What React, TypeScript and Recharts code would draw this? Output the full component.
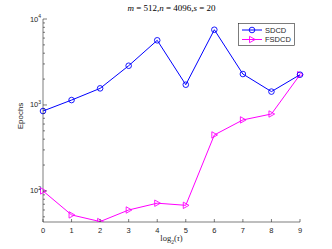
import React from 'react';
import { LineChart, Line, XAxis, YAxis } from 'recharts';

const tau = [0, 1, 2, 3, 4, 5, 6, 7, 8, 9];
const sdcd = [850, 1140, 1560, 2860, 5650, 1720, 7500, 2290, 1430, 2250];
const fsdcd = [100, 52.6, 44, 60, 72, 68, 448, 670, 785, 2250];

const xTicks = [0, 1, 2, 3, 4, 5, 6, 7, 8, 9];
const majorTicks = [100, 1000, 10000];
const yTicks = [50, 60, 70, 80, 90, 100, 200, 300, 400, 500, 600, 700, 800, 900,
  1000, 2000, 3000, 4000, 5000, 6000, 7000, 8000, 9000, 10000];
const yDomain: [number, number] = [43.5, 10000];

const data = tau.map((t, i) => ({ x: t, sdcd: sdcd[i], fsdcd: fsdcd[i] }));

const AX = '#262626';
const BLUE = '#0000FF';
const MAGENTA = '#FF00FF';
const SANS = 'Liberation Sans, Arial, sans-serif';
const SERIF = 'Liberation Serif, Times New Roman, serif';

const LeftTick = (props: any) => {
  const { x, y, payload } = props;
  const v = payload.value;
  const major = majorTicks.includes(v);
  const len = major ? 4 : 2;
  return (
    <g>
      <line x1={x} x2={x + len} y1={y} y2={y} stroke={AX} strokeWidth={0.6} />
      {major && (
        <text x={x - 2} y={y + 2.5} textAnchor="end" fontSize={7.5} fill={AX} fontFamily={SANS}>
          10<tspan dy={-3.5} fontSize={5}>{Math.round(Math.log10(v))}</tspan>
        </text>
      )}
    </g>
  );
};

const RightTick = (props: any) => {
  const { x, y, payload } = props;
  const len = majorTicks.includes(payload.value) ? 4 : 2;
  return <line x1={x} x2={x - len} y1={y} y2={y} stroke={AX} strokeWidth={0.6} />;
};

const BottomTick = (props: any) => {
  const { x, y, payload } = props;
  return (
    <g>
      <line x1={x} x2={x} y1={y} y2={y - 3} stroke={AX} strokeWidth={0.6} />
      <text x={x} y={y + 10.5} textAnchor="middle" fontSize={7.5} fill={AX} fontFamily={SANS}>
        {payload.value}
      </text>
    </g>
  );
};

const TopTick = (props: any) => {
  const { x, y } = props;
  return <line x1={x} x2={x} y1={y} y2={y + 3} stroke={AX} strokeWidth={0.6} />;
};

const Tri = ({ cx, cy, color }: any) => (
  <path d={`M${cx - 2.5},${cy - 3.2} L${cx + 3.2},${cy} L${cx - 2.5},${cy + 3.2} Z`}
    fill="none" stroke={color} strokeWidth={0.9} />
);

const TriDot = (props: any) => {
  const { cx, cy, index } = props;
  if (cx == null || cy == null) return <g key={index} />;
  return <Tri key={index} cx={cx} cy={cy} color={MAGENTA} />;
};

const LegendBox = () => (
  <svg width={57} height={23} style={{ display: 'block' }}>
    <rect x={0.5} y={0.5} width={56} height={22} fill="#fff" stroke={AX} strokeWidth={0.6} />
    <line x1={4} x2={24} y1={7} y2={7} stroke={BLUE} strokeWidth={1} />
    <circle cx={14} cy={7} r={2.8} fill="none" stroke={BLUE} strokeWidth={0.9} />
    <text x={27} y={9.6} fontSize={7.5} fill={AX} fontFamily={SANS}>SDCD</text>
    <line x1={4} x2={24} y1={16.5} y2={16.5} stroke={MAGENTA} strokeWidth={1} />
    <Tri cx={14} cy={16.5} color={MAGENTA} />
    <text x={27} y={19.1} fontSize={7.5} fill={AX} fontFamily={SANS}>FSDCD</text>
  </svg>
);

export default function App() {
  return (
    <div style={{ position: 'relative', width: 332, height: 249, background: '#fff' }}>
      <style>{'body{margin:0}'}</style>
      <LineChart width={332} height={249} data={data}
        margin={{ top: 19, right: 32, bottom: 0, left: 0 }}
        style={{ position: 'absolute', top: 0, left: 0 }}>
        <XAxis xAxisId="b" dataKey="x" type="number" domain={[0, 9]} ticks={xTicks}
          height={27} tickSize={0} tickMargin={0} tickLine={false}
          axisLine={{ stroke: AX, strokeWidth: 0.6 }} tick={<BottomTick />} interval={0} />
        <XAxis xAxisId="t" orientation="top" dataKey="x" type="number" domain={[0, 9]} ticks={xTicks}
          height={0} tickSize={0} tickMargin={0} tickLine={false}
          axisLine={{ stroke: AX, strokeWidth: 0.6 }} tick={<TopTick />} interval={0} />
        <YAxis yAxisId="l" scale="log" domain={yDomain} allowDataOverflow ticks={yTicks}
          width={43} tickSize={0} tickMargin={0} tickLine={false} interval={0}
          axisLine={{ stroke: AX, strokeWidth: 0.6 }} tick={<LeftTick />} />
        <YAxis yAxisId="r" orientation="right" scale="log" domain={yDomain} allowDataOverflow ticks={yTicks}
          width={0} tickSize={0} tickMargin={0} tickLine={false} interval={0}
          axisLine={{ stroke: AX, strokeWidth: 0.6 }} tick={<RightTick />} />
        <Line xAxisId="b" yAxisId="l" dataKey="fsdcd" name="FSDCD" stroke={MAGENTA} strokeWidth={1}
          dot={<TriDot />} isAnimationActive={false} type="linear" />
        <Line xAxisId="b" yAxisId="l" dataKey="sdcd" name="SDCD" stroke={BLUE} strokeWidth={1}
          dot={{ r: 2.8, fill: 'none', stroke: BLUE, strokeWidth: 0.9 }} isAnimationActive={false} type="linear" />
      </LineChart>
      <div style={{ position: 'absolute', top: 23, left: 238 }}>
        <LegendBox />
      </div>
      <div style={{
        position: 'absolute', top: 3, left: 43, width: 257, textAlign: 'center',
        fontFamily: SERIF, fontSize: 9, color: '#000', whiteSpace: 'nowrap'
      }}>
        <i>m</i> = 512,<i>n</i> = 4096,<i>s</i> = 20
      </div>
      <div style={{
        position: 'absolute', top: 233, left: 43, width: 257, textAlign: 'center',
        fontFamily: SERIF, fontSize: 8.5, color: AX
      }}>
        log<sub style={{ fontSize: 5.5 }}>2</sub>(<i>τ</i>)
      </div>
      <div style={{
        position: 'absolute', left: 20, top: 116, transform: 'translate(-50%, -50%) rotate(-90deg)',
        fontFamily: SANS, fontSize: 8, color: AX
      }}>
        Epochs
      </div>
    </div>
  );
}
